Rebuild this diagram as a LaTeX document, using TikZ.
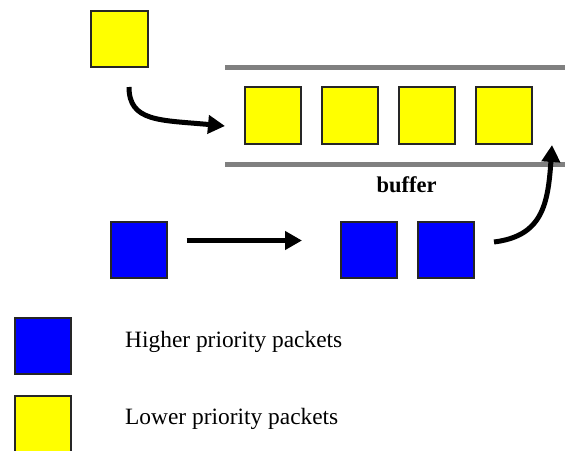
\documentclass[tikz,border=0pt]{standalone}
\usepackage{fontspec}
\setmainfont{Liberation Serif}
\usetikzlibrary{arrows.meta}
\definecolor{pktyellow}{RGB}{255,255,0}
\definecolor{pktblue}{RGB}{0,0,255}
\definecolor{rail}{RGB}{128,128,128}
\tikzset{
  packet/.style={draw=black!85, line width=2pt, minimum size=56.5pt, inner sep=0pt},
  lowpkt/.style={packet, fill=pktyellow},
  highpkt/.style={packet, fill=pktblue},
  flow/.style={line width=5pt, -{Triangle[length=17pt,width=18pt]}},
  railline/.style={draw=rail, line width=5pt},
  lbl/.style={font=\fontsize{23.4}{27}\selectfont, inner sep=0pt}
}
\begin{document}
\begin{tikzpicture}[x=1pt, y=-1pt]
\useasboundingbox (0,0) rectangle (565,450);

% buffer rails
\coordinate (railTopL) at (225,67.5);
\coordinate (railTopR) at (570,67.5);
\coordinate (railBotL) at (225,164);
\coordinate (railBotR) at (570,164);
\draw[railline] (railTopL) -- (railTopR);
\draw[railline] (railBotL) -- (railBotR);

% incoming low-priority packet
\node[lowpkt] (newlow) at (119.5,39) {};

% packets queued in the buffer
\node[lowpkt] (q1) at (273,115.5) {};
\node[lowpkt] (q2) at (350,115.5) {};
\node[lowpkt] (q3) at (427,115.5) {};
\node[lowpkt] (q4) at (504,115.5) {};

\node[lbl, font=\fontsize{22.5}{26}\selectfont\bfseries, anchor=base] (buf) at (406.5,192.5) {buffer};

% high-priority packets
\node[highpkt] (h0) at (139,250) {};
\node[highpkt] (h1) at (369,250) {};
\node[highpkt] (h2) at (446,250) {};

% connectors
\coordinate (lowStart) at (129,87);
\coordinate (lowEnd) at (225,126);
\draw[flow] (lowStart) .. controls (129,122) and (160,120) .. (lowEnd);

\coordinate (hStart) at (186.5,240.5);
\coordinate (hEnd) at (302,240.5);
\draw[flow] (hStart) -- (hEnd);

\coordinate (jumpStart) at (494,242);
\coordinate (jumpEnd) at (552,145);
\draw[flow] (jumpStart) .. controls (542,236) and (548,205) .. (jumpEnd);

% legend
\node[highpkt] (keyhigh) at (42.8,346.2) {};
\node[lowpkt] (keylow) at (42.8,424) {};
\node[lbl, anchor=base west] (keyhightext) at (125,347.5) {Higher priority packets};
\node[lbl, anchor=base west] (keylowtext) at (125,424) {Lower priority packets};
\end{tikzpicture}
\end{document}
